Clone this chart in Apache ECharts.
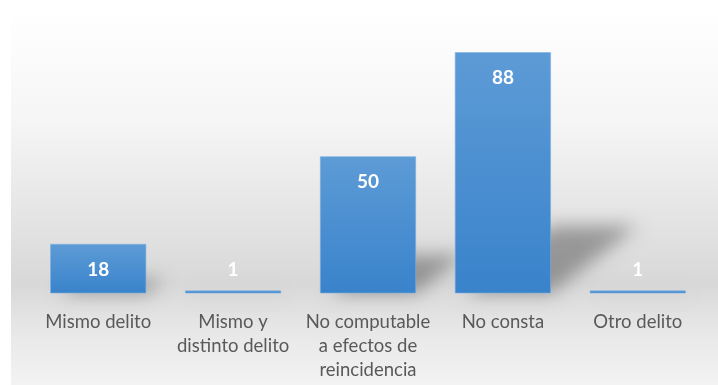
<!DOCTYPE html>
<html>
<head>
<meta charset="utf-8">
<style>html,body{margin:0;padding:0;background:#fff}#c{width:718px;height:385px}</style>
<script src="https://cdn.jsdelivr.net/npm/echarts@6/dist/echarts.min.js"></script>
</head>
<body>
<div id="c"></div>
<script>
var categories = ['Mismo delito', 'Mismo y\ndistinto delito', 'No computable\na efectos de\nreincidencia', 'No consta', 'Otro delito'];
var values = [18, 1, 50, 88, 1];
var yMax = 100;

var chart = echarts.init(document.getElementById('c'), null, {renderer: 'canvas'});
var FONT = 'Lato, "Open Sans", sans-serif';
var BARW = 96;

var barData = values.map(function (v) {
  if (v < 5) {
    return {value: v, label: {position: 'top', distance: 11}};
  }
  return {value: v};
});

var option = {
  animation: false,
  graphic: [{
    type: 'rect', z: -10, silent: true,
    shape: {x: 11, y: 10, width: 720, height: 380},
    style: {
      fill: new echarts.graphic.LinearGradient(0, 0, 0, 1, [
        {offset: 0, color: '#ffffff'},
        {offset: 0.3, color: '#f5f5f5'},
        {offset: 0.72, color: '#d8d8d8'},
        {offset: 0.85, color: '#e8e8e8'},
        {offset: 1, color: '#f4f4f4'}
      ])
    }
  }],
  grid: {left: 30.75, right: 12.75, top: 19.4, bottom: 91.7, containLabel: false},
  xAxis: {
    type: 'category',
    data: categories,
    axisLine: {show: false},
    axisTick: {show: false},
    axisLabel: {
      interval: 0, margin: 17, color: '#595959', fontFamily: FONT, fontSize: 18.5, lineHeight: 24
    }
  },
  yAxis: {
    type: 'value', min: 0, max: yMax,
    show: false, splitLine: {show: false}
  },
  series: [{
    type: 'custom',
    silent: true,
    z: 1,
    data: values.map(function (v, i) { return [i, v]; }),
    renderItem: function (params, api) {
      var i = api.value(0), v = api.value(1);
      var base = api.coord([i, 0]);
      var top = api.coord([i, v]);
      var h = base[1] - top[1];
      var xl = base[0] - BARW / 2 + 10, xr = base[0] + BARW / 2;
      var dx = h * 0.36, dy = h * 0.28;
      var OFF = 2000;
      return {
        type: 'polygon',
        shape: {points: [[xl - OFF, base[1]], [xr - OFF, base[1]], [xr + dx - OFF, base[1] - dy], [xl + dx - OFF, base[1] - dy]]},
        style: {
          fill: 'rgba(0,0,0,1)',
          shadowColor: 'rgba(0,0,0,0.32)',
          shadowBlur: 18,
          shadowOffsetX: OFF,
          shadowOffsetY: 0
        }
      };
    }
  }, {
    type: 'bar',
    z: 2,
    data: barData,
    barWidth: BARW,
    itemStyle: {
      color: new echarts.graphic.LinearGradient(0, 0, 0, 1, [
        {offset: 0, color: '#5d9bd6'},
        {offset: 1, color: '#3983cb'}
      ]),
      borderColor: '#7cb0e2',
      borderWidth: 0.6
    },
    label: {
      show: true,
      position: 'insideTop',
      distance: 16,
      color: '#ffffff',
      fontFamily: FONT,
      fontWeight: 'bold',
      fontSize: 19
    }
  }]
};
chart.setOption(option);
</script>
</body>
</html>
